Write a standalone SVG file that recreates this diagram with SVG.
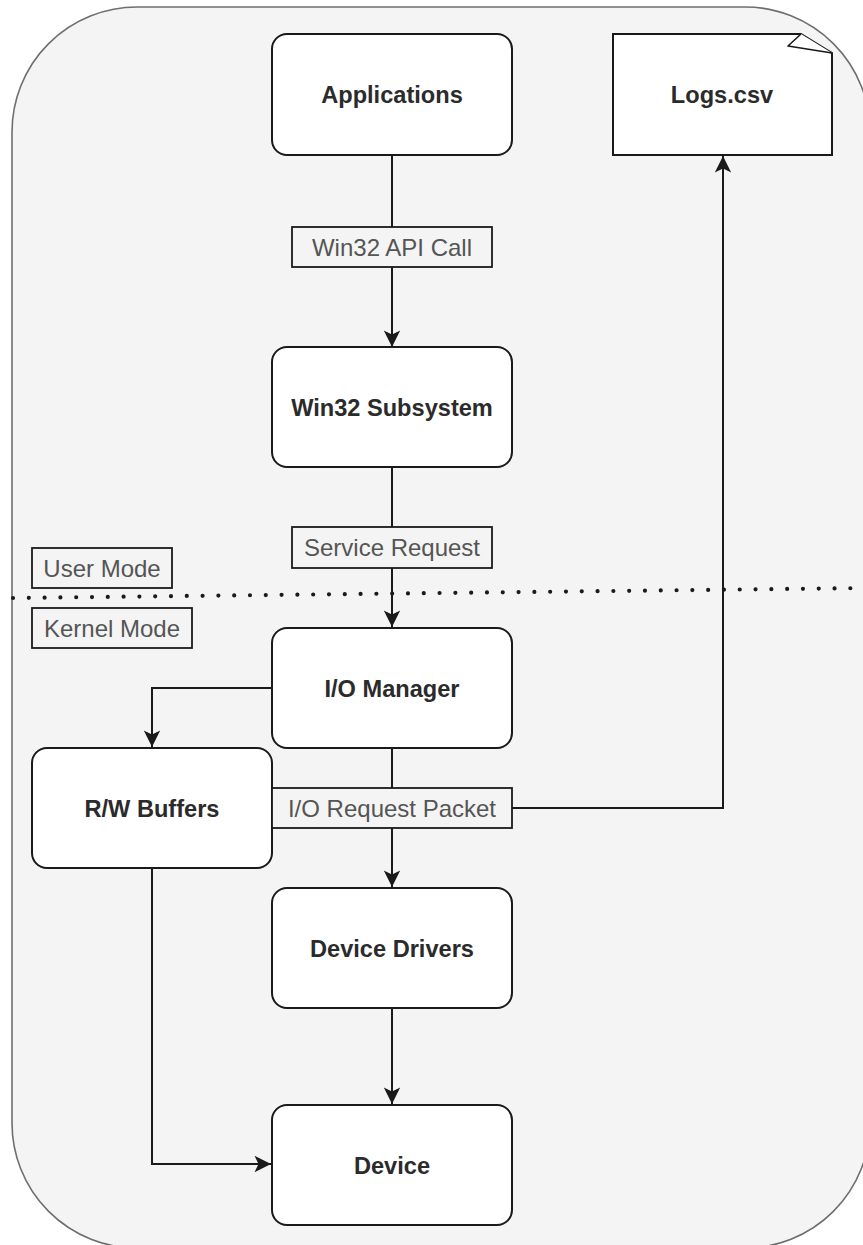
<svg xmlns="http://www.w3.org/2000/svg" width="863" height="1245" viewBox="0 0 863 1245">
  <style>
    .node { fill: #ffffff; stroke: #1a1a1a; stroke-width: 2; }
    .lbl { fill: #f4f4f4; stroke: #1a1a1a; stroke-width: 1.8; }
    .conn { fill: none; stroke: #1a1a1a; stroke-width: 2; }
    .nt { font-family: "Liberation Sans", Arial, sans-serif; font-size: 23.6px; font-weight: bold; fill: #2b2b2b; text-anchor: middle; }
    .lt { font-family: "Liberation Sans", Arial, sans-serif; font-size: 24px; fill: #555555; text-anchor: middle; }
  </style>
  <defs>
    <marker id="arrow" markerUnits="userSpaceOnUse" viewBox="0 0 17 18" refX="17" refY="9" markerWidth="17" markerHeight="18" orient="auto">
      <path d="M0.5,0.8 L17,9 L0.5,17.2 L4.5,9 Z" fill="#1a1a1a"/>
    </marker>
  </defs>

  <g id="container">
    <rect x="12" y="7" width="858" height="1241" rx="125" ry="125" fill="#f4f4f4" stroke="#6e6e6e" stroke-width="1.6"/>
  </g>

  <g id="mode-divider">
    <line x1="13" y1="598" x2="870" y2="588" stroke="#1a1a1a" stroke-width="4.2" stroke-linecap="round" stroke-dasharray="0 15.8"/>
  </g>

  <g id="connectors">
    <line class="conn" x1="392" y1="155" x2="392" y2="347" marker-end="url(#arrow)"/>
    <line class="conn" x1="392" y1="467" x2="392" y2="627" marker-end="url(#arrow)"/>
    <line class="conn" x1="392" y1="748" x2="392" y2="887" marker-end="url(#arrow)"/>
    <line class="conn" x1="392" y1="1008" x2="392" y2="1104" marker-end="url(#arrow)"/>
    <polyline class="conn" points="512,808 723,808 723,156" marker-end="url(#arrow)"/>
    <polyline class="conn" points="272,688 152,688 152,747" marker-end="url(#arrow)"/>
    <polyline class="conn" points="152,868 152,1164 271,1164" marker-end="url(#arrow)"/>
  </g>

  <g id="applications">
    <rect class="node" x="272" y="34" width="240" height="121" rx="15"/>
    <text class="nt" x="392" y="103">Applications</text>
  </g>

  <g id="logs-csv">
    <path class="node" d="M613,34 L801,34 L832,53 L832,155 L613,155 Z"/>
    <path d="M801,34 L788,46 L832,53" fill="#ffffff" stroke="#1a1a1a" stroke-width="1.6" stroke-linejoin="round"/>
    <text class="nt" x="722" y="103">Logs.csv</text>
  </g>

  <g id="win32-subsystem">
    <rect class="node" x="272" y="347" width="240" height="120" rx="15"/>
    <text class="nt" x="392" y="416">Win32 Subsystem</text>
  </g>

  <g id="io-manager">
    <rect class="node" x="272" y="628" width="240" height="120" rx="15"/>
    <text class="nt" x="392" y="696.5">I/O Manager</text>
  </g>

  <g id="rw-buffers">
    <rect class="node" x="32" y="748" width="240" height="120" rx="15"/>
    <text class="nt" x="152" y="816.5">R/W Buffers</text>
  </g>

  <g id="device-drivers">
    <rect class="node" x="272" y="888" width="240" height="120" rx="15"/>
    <text class="nt" x="392" y="956.5">Device Drivers</text>
  </g>

  <g id="device">
    <rect class="node" x="272" y="1105" width="240" height="120" rx="15"/>
    <text class="nt" x="392" y="1173.5">Device</text>
  </g>

  <g id="label-win32-api-call">
    <rect class="lbl" x="292" y="227" width="200" height="40"/>
    <text class="lt" x="392" y="255.5">Win32 API Call</text>
  </g>

  <g id="label-service-request">
    <rect class="lbl" x="292" y="527" width="200" height="41"/>
    <text class="lt" x="392" y="556">Service Request</text>
  </g>

  <g id="label-io-request-packet">
    <rect class="lbl" x="272" y="788" width="240" height="40"/>
    <text class="lt" x="392" y="816.5">I/O Request Packet</text>
  </g>

  <g id="label-user-mode">
    <rect class="lbl" x="32" y="548" width="140" height="40"/>
    <text class="lt" x="102" y="576.5">User Mode</text>
  </g>

  <g id="label-kernel-mode">
    <rect class="lbl" x="32" y="608" width="160" height="40"/>
    <text class="lt" x="112" y="636.5">Kernel Mode</text>
  </g>
</svg>
